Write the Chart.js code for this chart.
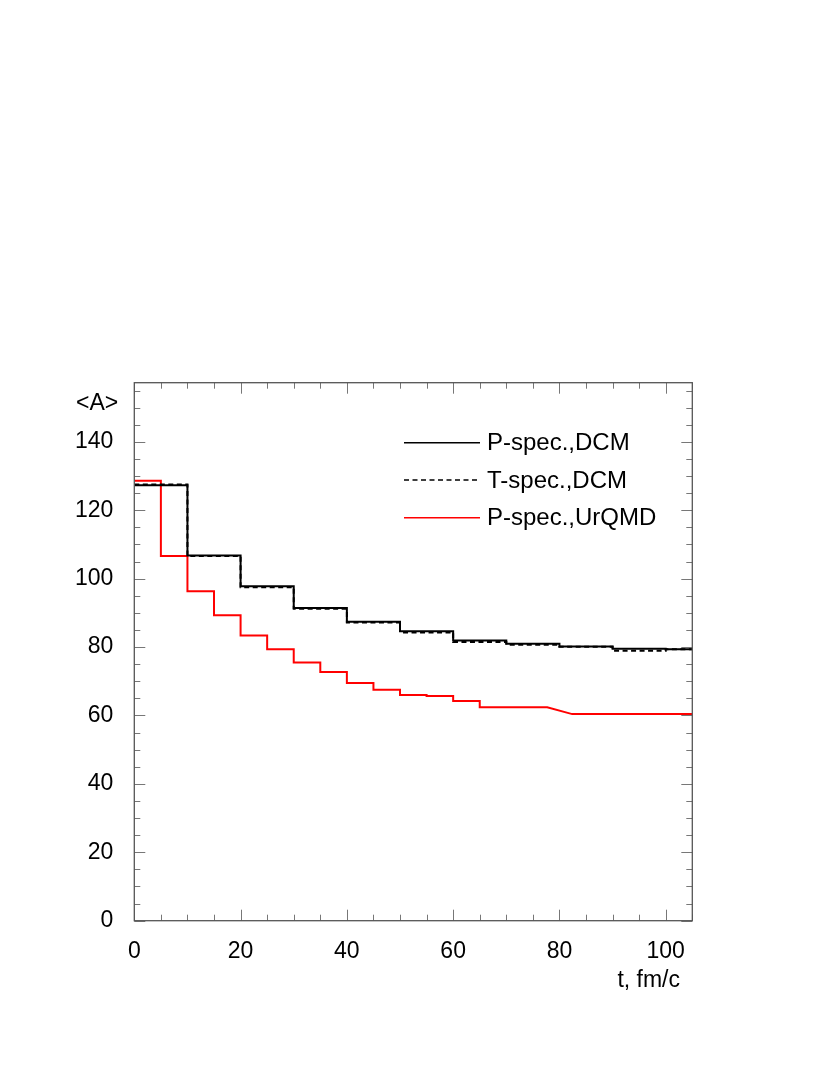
<!DOCTYPE html>
<html>
<head>
<meta charset="utf-8">
<script src="https://cdn.jsdelivr.net/npm/chart.js@4.4.1/dist/chart.umd.min.js"></script>
<style>
  html, body { margin: 0; padding: 0; background: #fff; }
  canvas { display: block; }
</style>
</head>
<body>
<canvas id="c" width="830" height="1075"></canvas>
<script>
// ---- data ----
const seriesLabels = ['P-spec.,DCM', 'T-spec.,DCM', 'P-spec.,UrQMD'];
const dcmEdges = [0, 10, 20, 30, 40, 50, 60, 70, 80, 90, 100, 105];
const pDcm = [127.3, 106.8, 97.8, 91.4, 87.4, 84.6, 81.9, 81.0, 80.2, 79.5, 79.4];
const tDcm = [127.5, 106.6, 97.5, 91.2, 87.2, 84.3, 81.5, 80.7, 80.1, 78.9, 79.4];
const urEdges = [0, 5, 10, 15, 20, 25, 30, 35, 40, 45, 50, 55, 60, 65, 77.7];
const pUr = [128.6, 106.6, 96.3, 89.3, 83.4, 79.4, 75.5, 72.7, 69.5, 67.5, 66.0, 65.7, 64.2, 62.4];
const urTailX = [82.4, 105];
const urTailY = [60.4, 60.4];
const xTicks = [0, 20, 40, 60, 80, 100];
const yTicks = [0, 20, 40, 60, 80, 100, 120, 140];
const xTitle = 't, fm/c';
const yTitle = '<A>';

function steps(edges, vals) {
  const pts = [];
  for (let i = 0; i < vals.length; i++) {
    pts.push({x: edges[i], y: vals[i]});
    pts.push({x: edges[i + 1], y: vals[i]});
  }
  return pts;
}
const urPts = steps(urEdges, pUr).concat(urTailX.map((x, i) => ({x, y: urTailY[i]})));

const FONT = '"Liberation Sans", Arial, Helvetica, sans-serif';
const AX = '#555';
const TK = '#777';

const framePlugin = {
  id: 'frame',
  afterDatasetsDraw(chart) {
    const {ctx, chartArea: a, scales: {x, y}} = chart;
    ctx.save();
    ctx.strokeStyle = TK;
    ctx.lineWidth = 1;
    for (let v = 0; v <= 105; v += 5) {
      const px = Math.round(x.getPixelForValue(v)) + 0.5;
      const len = (v % 20 === 0) ? 11 : 6;
      ctx.beginPath();
      ctx.moveTo(px, a.bottom); ctx.lineTo(px, a.bottom - len);
      ctx.moveTo(px, a.top); ctx.lineTo(px, a.top + len);
      ctx.stroke();
    }
    for (let v = 0; v <= 157; v += 5) {
      const py = Math.round(y.getPixelForValue(v)) + 0.5;
      const len = (v % 20 === 0) ? 11 : 6;
      ctx.beginPath();
      ctx.moveTo(a.left, py); ctx.lineTo(a.left + len, py);
      ctx.moveTo(a.right, py); ctx.lineTo(a.right - len, py);
      ctx.stroke();
    }
    ctx.strokeStyle = AX;
    ctx.lineWidth = 1.3;
    ctx.strokeRect(a.left, a.top, a.right - a.left, a.bottom - a.top);

    // titles
    ctx.fillStyle = '#000';
    ctx.font = '23px ' + FONT;
    ctx.textBaseline = 'middle';
    ctx.textAlign = 'left';
    ctx.fillText(yTitle, 76, 404);
    ctx.textAlign = 'right';
    ctx.fillText(xTitle, 680, 981);

    // legend
    ctx.font = '24px ' + FONT;
    const rows = [442.7, 480, 517.7];
    chart.data.datasets.forEach((ds, i) => {
      const yy = rows[i];
      ctx.beginPath();
      ctx.strokeStyle = ds.borderColor;
      ctx.lineWidth = 1.4;
      ctx.setLineDash(ds.borderDash || []);
      ctx.moveTo(404, yy); ctx.lineTo(480, yy);
      ctx.stroke();
      ctx.setLineDash([]);
      ctx.textAlign = 'left';
      ctx.fillStyle = '#000';
      ctx.fillText(ds.label, 487, yy + 1);
    });
    ctx.restore();
  }
};

new Chart(document.getElementById('c'), {
  type: 'scatter',
  data: {
    datasets: [
      {label: seriesLabels[0], data: steps(dcmEdges, pDcm), showLine: true, borderColor: '#000', borderWidth: 2, pointRadius: 0, order: 1},
      {label: seriesLabels[1], data: steps(dcmEdges, tDcm), showLine: true, borderColor: '#000', borderWidth: 2, borderDash: [5, 3.5], pointRadius: 0, order: 2},
      {label: seriesLabels[2], data: urPts, showLine: true, borderColor: '#ff0000', borderWidth: 2, pointRadius: 0, order: 3}
    ]
  },
  options: {
    responsive: false,
    animation: false,
    events: [],
    layout: {padding: {left: 0, top: 382.7, right: 830 - 692.3, bottom: 1075 - 920.7 - 90}},
    plugins: {legend: {display: false}, tooltip: {enabled: false}},
    scales: {
      x: {
        type: 'linear', min: 0, max: 105,
        grid: {display: false}, border: {display: false},
        afterBuildTicks: s => { s.ticks = xTicks.map(v => ({value: v})); },
        afterFit: s => { s.height = 90; },
        ticks: {padding: 9, color: '#000', font: {family: FONT, size: 23}, maxRotation: 0, autoSkip: false}
      },
      y: {
        type: 'linear', min: 0, max: 157.3,
        grid: {display: false}, border: {display: false},
        afterBuildTicks: s => { s.ticks = yTicks.map(v => ({value: v})); },
        afterFit: s => { s.width = 134.3; },
        ticks: {padding: 13, color: '#000', font: {family: FONT, size: 23}, autoSkip: false}
      }
    }
  },
  plugins: [framePlugin]
});
</script>
</body>
</html>
